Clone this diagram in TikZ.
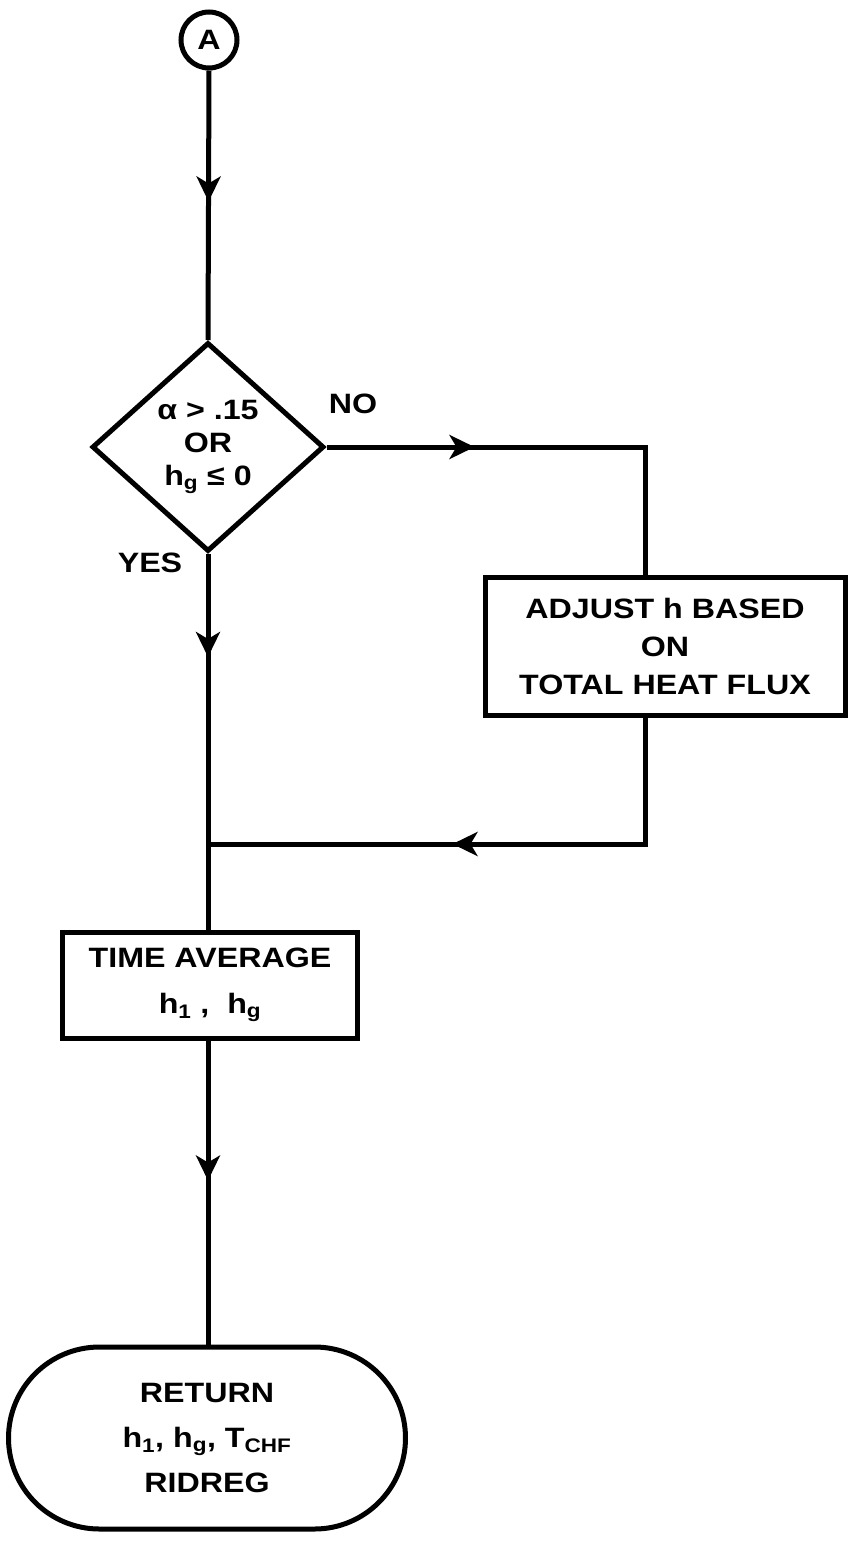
\documentclass[tikz,border=0pt]{standalone}
\usepackage{fontspec}
\setmainfont{Liberation Sans}[FakeStretch=1.15]
\usetikzlibrary{shapes.geometric,arrows.meta,decorations.markings}
\newcommand{\figfont}{\fontsize{28}{38}\selectfont\bfseries}
\tikzset{
  flow/.style={line width=5pt},
  midarrow/.style={postaction={decorate,decoration={markings,
    mark=at position #1 with {\arrow{Stealth[length=25pt,width=24pt,inset=7pt]}}}}},
  procbox/.style={draw,line width=5pt,align=center,inner sep=0pt,font=\figfont},
  lbl/.style={font=\figfont,inner sep=0pt},
}
\begin{document}
\begin{tikzpicture}[x=1pt,y=-1pt]
\useasboundingbox (0,0) rectangle (850,1542);
\node[draw,circle,line width=5pt,minimum size=56pt,inner sep=0pt,font=\figfont] (A) at (209,40) {A};
\node[draw,diamond,line width=5pt,minimum width=232pt,minimum height=209pt,inner sep=0pt,align=center,font=\fontsize{28}{33}\selectfont\bfseries] (dec) at (208,447) {α > .15\\OR\\h\textsubscript{g} ≤ 0};
\node[lbl] (no) at (353,404) {NO};
\node[lbl] (yes) at (150,563) {YES};
\node[procbox,minimum width=360pt,minimum height=138pt] (adj) at (665,646) {ADJUST h BASED\\ON\\TOTAL HEAT FLUX};
\node[procbox,minimum width=295pt,minimum height=106pt,font=\fontsize{28}{46}\selectfont\bfseries] (avg) at (210,985) {TIME AVERAGE\\h\textsubscript{1} ,\ \ h\textsubscript{g}};
\node[draw,line width=5pt,rounded corners=91pt,minimum width=397pt,minimum height=182pt,inner sep=0pt,align=center,font=\fontsize{28}{45}\selectfont\bfseries] (ret) at (207,1438) {RETURN\\h\textsubscript{1}, h\textsubscript{g}, T\textsubscript{CHF}\\RIDREG};
\coordinate (nobend) at (645,447);
\coordinate (join) at (208,844);
\draw[flow,midarrow=131pt] (A.south) -- (dec.north);
\draw[flow,midarrow=148pt] (dec.east) -- (nobend) -- (nobend |- adj.north);
\draw[flow,midarrow=319pt] (nobend |- adj.south) -- (nobend |- join) -- (join);
\draw[flow,midarrow=103pt] (dec.south) -- (dec.south |- avg.north);
\draw[flow,midarrow=140pt] (dec.south |- avg.south) -- (dec.south |- ret.north);
\end{tikzpicture}
\end{document}
